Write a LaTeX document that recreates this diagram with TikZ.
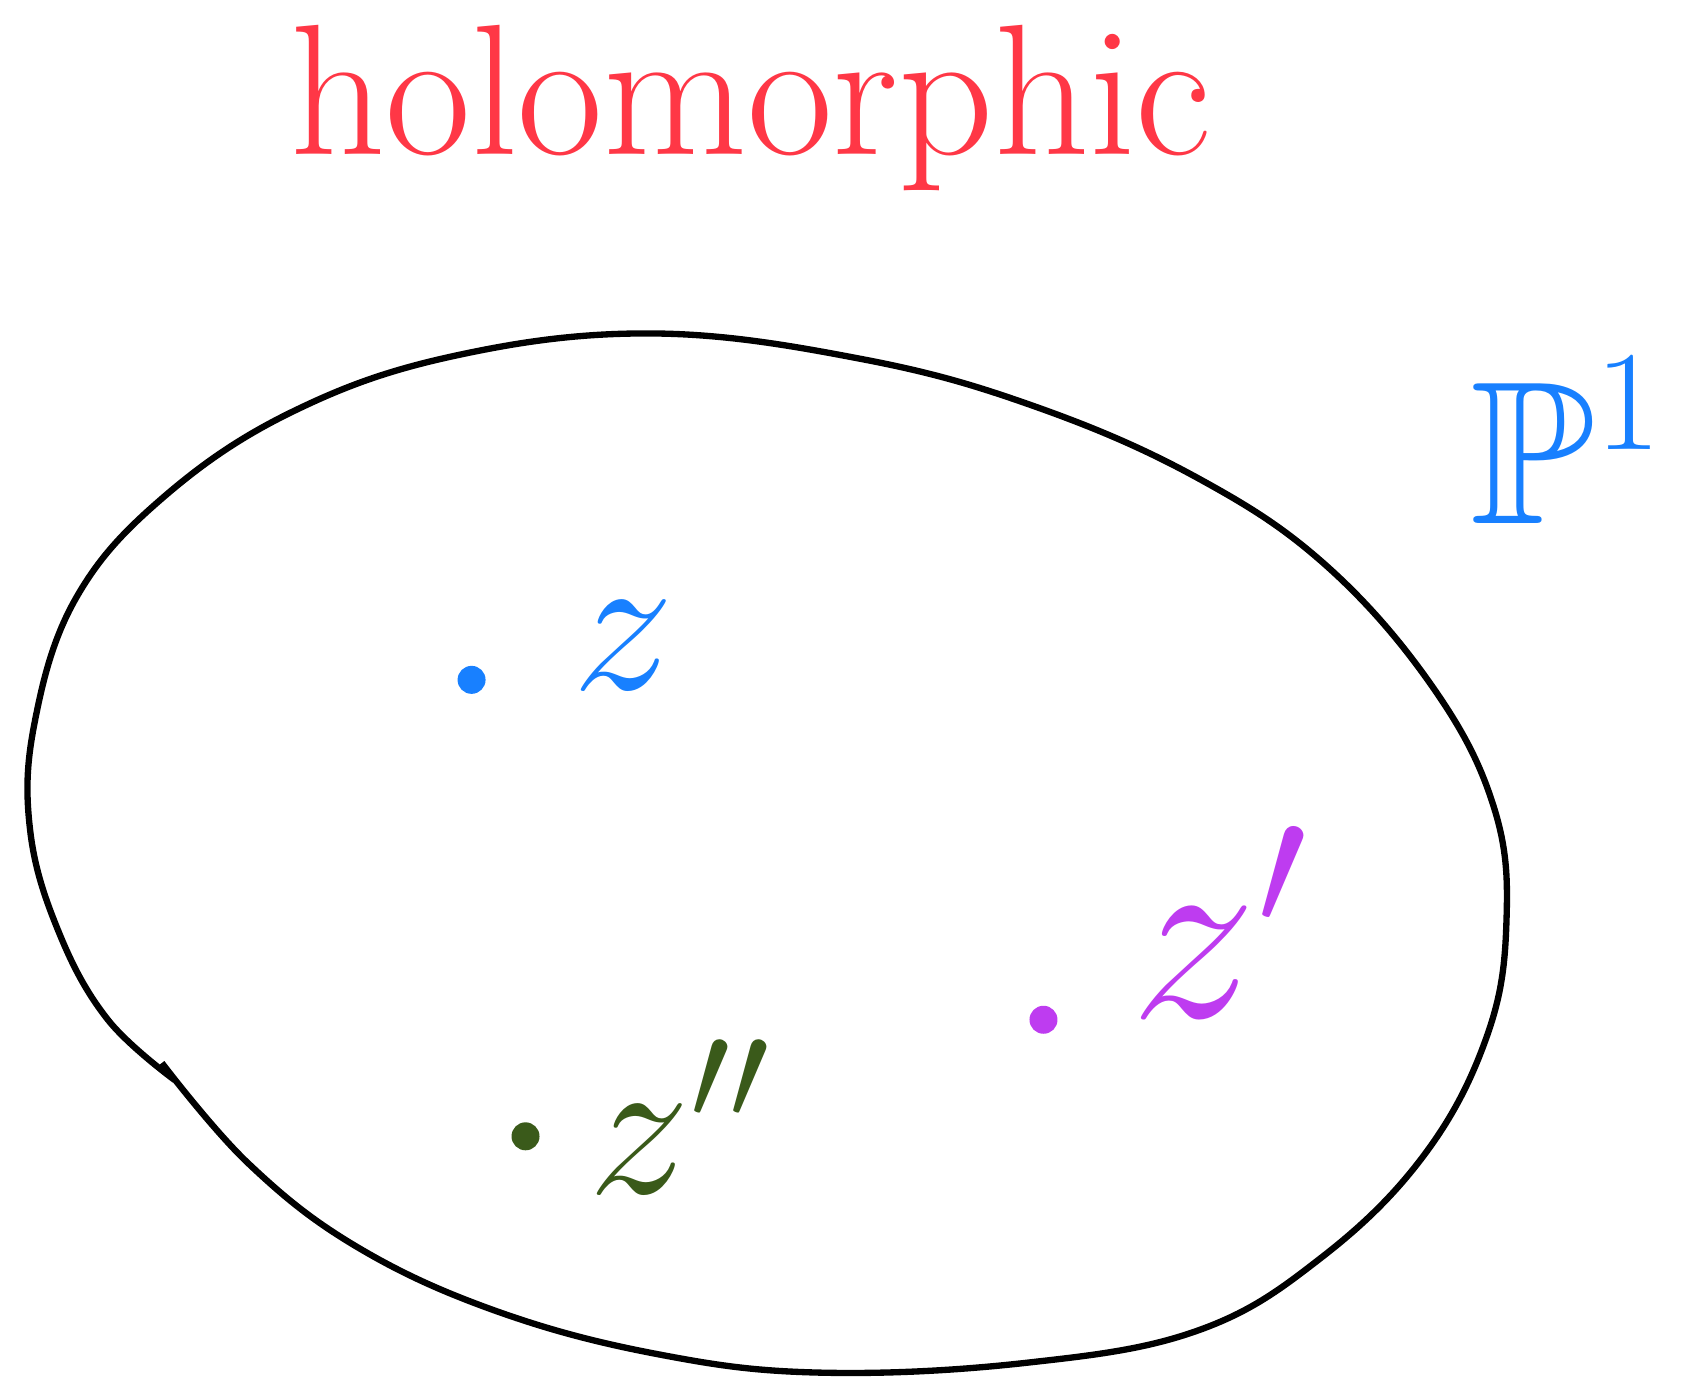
\RequirePackage{fix-cm}
\documentclass[tikz,border=0pt]{standalone}
\usepackage{amsmath,amssymb}
\usepackage{xcolor}
\usepackage{tikz}
\usetikzlibrary{positioning}

\definecolor{holored}{RGB}{255,55,70}
\definecolor{zblue}{RGB}{24,128,255}
\definecolor{zpurple}{RGB}{190,60,240}
\definecolor{zgreen}{RGB}{58,90,26}

\begin{document}
\begin{tikzpicture}[
  x=0.01079cm, y=-0.01079cm,
  dot/.style={circle, fill, inner sep=0pt, minimum size=0.28cm},
  zlabel/.style={font=\fontsize{58}{62}\selectfont, inner sep=0pt},
]
\useasboundingbox (0,0) rectangle (1568,1277);

  % Title
  \node[text=holored, font=\fontsize{53}{58}\selectfont] (title) at (696,100) {holomorphic};

  % Region
  \draw[line width=1.8pt] plot[smooth, tension=0.65] coordinates {
    (150,985) (230,1078) (330,1155) (460,1215) (610,1255) (760,1272)
    (950,1263) (1110,1233) (1225,1165) (1320,1070) (1378,960) (1396,855)
    (1385,750) (1330,640) (1230,525) (1110,443) (960,377) (800,333)
    (605,309) (420,330) (270,382) (150,462) (70,555) (32,670) (28,770)
    (55,865) (100,945) (162,1001)};

  % Points
  \node[dot, zblue] (p) at (437,630) {};
  \node[dot, zpurple] (q) at (967,945) {};
  \node[dot, zgreen] (r) at (487,1053) {};

  % Labels
  \node[zlabel, text=zblue] (pz) at (578,598) {$z$};
  \node[zlabel, text=zpurple, font=\fontsize{72}{76}\selectfont] (qz) at (1130,855) {$z'$};
  \node[zlabel, text=zgreen] (rz) at (630,1035) {$z''$};
  \node[text=zblue, font=\fontsize{58}{62}\selectfont] (P) at (1452,408) {$\mathbb{P}^1$};

\end{tikzpicture}
\end{document}
